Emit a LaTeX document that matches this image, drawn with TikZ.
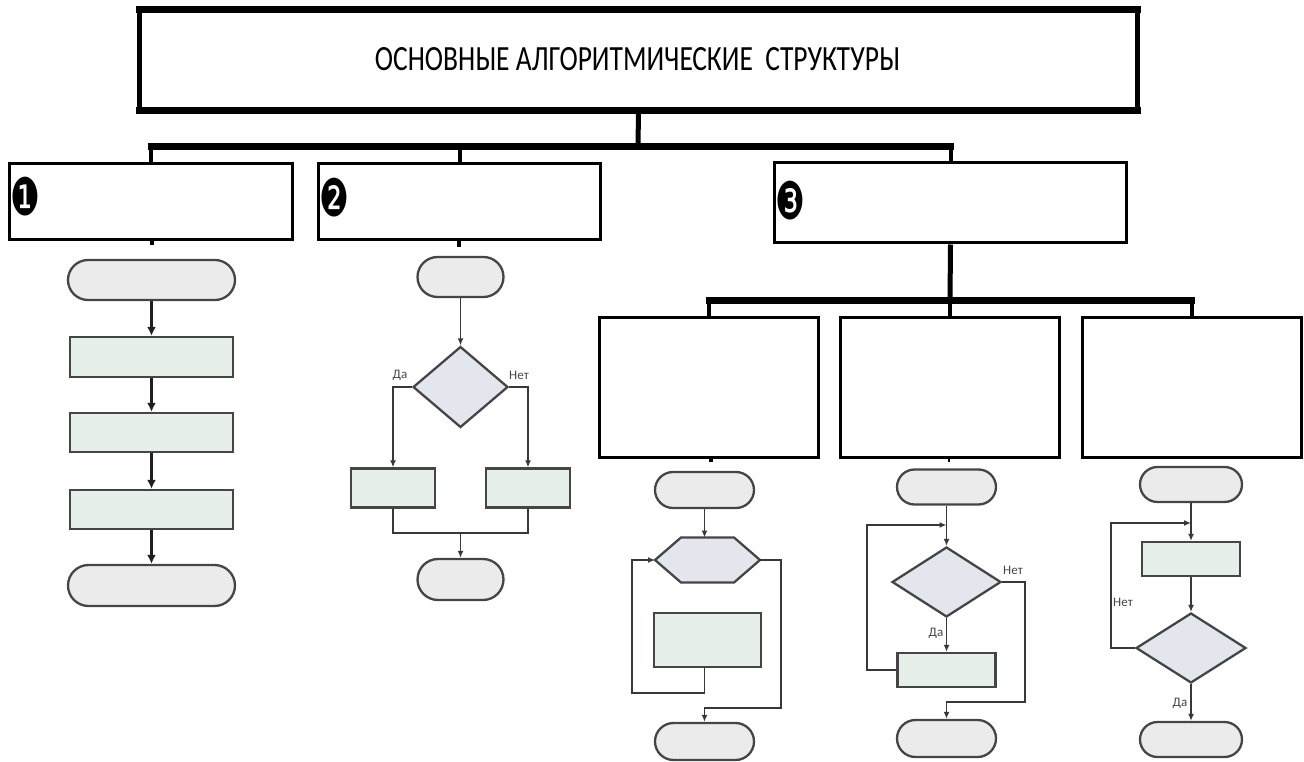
\documentclass[tikz,border=0pt]{standalone}
\usepackage{graphicx}
\usepackage{fontspec}
\setmainfont{Carlito}
\newfontfamily\symfont{DejaVu Sans}
\usetikzlibrary{arrows.meta,shapes.geometric,shapes.misc}
\definecolor{termfill}{HTML}{EBEBEB}
\definecolor{procfill}{HTML}{E6F0E8}
\definecolor{decfill}{HTML}{E4E6EE}
\definecolor{shapeline}{HTML}{454545}
\definecolor{connline}{HTML}{383838}
\tikzset{
  titlebox/.style={draw=black, line width=5pt, outer sep=0pt, inner sep=0pt},
  catbox/.style={draw=black, line width=3pt, inner sep=0pt},
  termbox/.style={rounded rectangle, draw=shapeline, fill=termfill, line width=2.3pt, inner sep=0pt},
  procbox/.style={rectangle, draw=shapeline, fill=procfill, line width=2.3pt, inner sep=0pt},
  decbox/.style={diamond, draw=shapeline, fill=decfill, line width=2.3pt, inner sep=0pt},
  hexbox/.style={rectangle, draw=none, inner sep=0pt, outer sep=0pt},
  conn/.style={draw=connline, line width=1.7pt},
  arr/.style={conn, -{Latex[length=7pt,width=6pt]}},
  arrbold/.style={draw=black!88, line width=2.4pt, -{Latex[length=9pt,width=9pt]}},
  tree/.style={draw=black, line width=5pt},
  treebar/.style={draw=black, line width=7pt, line cap=rect},
  lbl/.style={font=\fontsize{13}{13}\selectfont, text=shapeline, inner sep=0pt},
  num/.style={inner sep=0pt, font=\symfont\fontsize{52}{52}\selectfont},
}
\begin{document}
\begin{tikzpicture}[x=1pt,y=-1pt]
\useasboundingbox (0,0) rectangle (1304,762);

% ---------- title and hierarchy ----------
\node[titlebox, minimum width=998pt, minimum height=101pt] (title) at (638.5,60) {};
\draw[line width=7.5pt, line cap=rect] (title.north west) -- (title.north east);
\draw[line width=7.5pt, line cap=rect] (title.south west) -- (title.south east);
\node (ttext) at (637.5,59) {\resizebox{525pt}{23pt}{ОСНОВНЫЕ АЛГОРИТМИЧЕСКИЕ\ \ СТРУКТУРЫ}};

\node[catbox, minimum width=283pt, minimum height=76pt] (box1) at (151,201.5) {};
\node[catbox, minimum width=282pt, minimum height=76pt] (box2) at (459.5,201.5) {};
\node[catbox, minimum width=352pt, minimum height=80pt] (box3) at (950.5,203) {};

\node[num] (n1) at (25,197) {\scalebox{0.64}[1]{❶}};
\node[num] (n2) at (334,198) {\scalebox{0.64}[1]{❷}};
\node[num] (n3) at (790,201) {\scalebox{0.64}[1]{❸}};

\coordinate (bar1) at (638,147);
\draw[tree] (title.south) -- (bar1);
\draw[treebar] (box1.north |- bar1) -- (box3.north |- bar1);
\draw[tree, line width=4pt] (box1.north |- bar1) -- (box1.north);
\draw[tree, line width=4pt] (box2.north |- bar1) -- (box2.north);
\draw[tree, line width=4pt] (box3.north |- bar1) -- (box3.north);

\node[catbox, minimum width=219pt, minimum height=140pt] (subA) at (709,387) {};
\node[catbox, minimum width=219pt, minimum height=140pt] (subB) at (950,387) {};
\node[catbox, minimum width=219pt, minimum height=140pt] (subC) at (1191.5,387) {};

\coordinate (bar2) at (950,300.5);
\draw[tree] (box3.south) -- (bar2);
\draw[treebar] (subA.north |- bar2) -- (subC.north |- bar2);
\draw[tree, line width=4pt] (subA.north |- bar2) -- (subA.north);
\draw[tree, line width=4pt] (subB.north |- bar2) -- (subB.north);
\draw[tree, line width=4pt] (subC.north |- bar2) -- (subC.north);

% small stubs below boxes
\coordinate (s1) at (152,245);
\coordinate (s2) at (459,247);
\coordinate (s3) at (711,462);
\coordinate (s4) at (949,462);
\draw[tree, line width=4pt] (box1.south -| s1) -- (s1);
\draw[tree, line width=4pt] (box2.south -| s2) -- (s2);
\draw[tree, line width=4pt] (subA.south -| s3) -- (s3);
\draw[tree, line width=1.5pt] (subB.south -| s4) -- (s4);

% ---------- 1: linear ----------
\node[termbox, minimum width=167pt, minimum height=40pt] (t1a) at (151.5,280) {};
\node[procbox, minimum width=163pt, minimum height=40pt] (r1a) at (151.5,357) {};
\node[procbox, minimum width=163pt, minimum height=39pt] (r1b) at (151.5,432.5) {};
\node[procbox, minimum width=163pt, minimum height=39pt] (r1c) at (151.5,509.5) {};
\node[termbox, minimum width=167pt, minimum height=41pt] (t1b) at (151.5,585.5) {};
\draw[arrbold] (t1a.south) -- (r1a.north);
\draw[arrbold] (r1a.south) -- (r1b.north);
\draw[arrbold] (r1b.south) -- (r1c.north);
\draw[arrbold] (r1c.south) -- (t1b.north);

% ---------- 2: branching ----------
\node[termbox, minimum width=86pt, minimum height=40pt] (t2a) at (460.5,277) {};
\node[decbox, minimum width=95pt, minimum height=81pt] (d2) at (460.5,387) {};
\node[procbox, minimum width=84pt, minimum height=39pt] (r2L) at (393,488) {};
\node[procbox, minimum width=84pt, minimum height=39pt] (r2R) at (528,488) {};
\node[termbox, minimum width=86pt, minimum height=41pt] (t2b) at (460.5,579.5) {};
\coordinate (j2) at (460.5,533);
\draw[arr] (t2a.south) -- (d2.north);
\draw[arr] (d2.west) -| (r2L.north);
\draw[arr] (d2.east) -| (r2R.north);
\draw[conn] (r2L.south) |- (j2) -| (r2R.south);
\draw[arr] (j2) -- (t2b.north);
\node[lbl] (da2) at (400,375) {Да};
\node[lbl] (net2) at (519,375) {Нет};

% ---------- 3A: loop with parameter ----------
\node[termbox, minimum width=99pt, minimum height=36pt] (tA1) at (704.5,490) {};
\node[hexbox, minimum width=105pt, minimum height=45pt] (hex) at (707.5,560) {};
\filldraw[draw=shapeline, fill=decfill, line width=2.3pt]
  (hex.west) -- ([xshift=26pt]hex.north west) -- ([xshift=-26pt]hex.north east)
  -- (hex.east) -- ([xshift=-26pt]hex.south east) -- ([xshift=26pt]hex.south west) -- cycle;
\node[procbox, minimum width=107pt, minimum height=54pt] (rA) at (707.5,640) {};
\node[termbox, minimum width=99pt, minimum height=37pt] (tA2) at (704.5,741.5) {};
\coordinate (lA1) at (632,693);
\coordinate (lA2) at (781,708);
\draw[arr] (tA1.south) -- (tA1.south |- hex.north);
\draw[arr] (rA.south -| tA1.south) |- (lA1) |- (hex.west);
\draw[arr] (hex.east) -| (lA2) -| (tA2.north);

% ---------- 3B: while loop ----------
\node[termbox, minimum width=99pt, minimum height=35pt] (tB1) at (946.5,487) {};
\node[decbox, minimum width=109pt, minimum height=70pt] (dB) at (946.5,582) {};
\node[procbox, minimum width=98pt, minimum height=34pt] (rB) at (946.5,670) {};
\node[termbox, minimum width=99pt, minimum height=37pt] (tB2) at (946.5,738.5) {};
\coordinate (lB1) at (867,525);
\coordinate (lB2) at (1025,702);
\draw[arr] (tB1.south) -- (dB.north);
\draw[arr] (dB.south) -- (rB.north);
\draw[arr] (rB.west) -| (lB1) -- (lB1 -| tB1.south);
\draw[arr] (dB.east) -| (lB2) -| (tB2.north);
\node[lbl] (netB) at (1013,570) {Нет};
\node[lbl] (daB) at (936,633) {Да};

% ---------- 3C: do-until loop ----------
\node[termbox, minimum width=102pt, minimum height=35pt] (tC1) at (1191,484.5) {};
\node[procbox, minimum width=98pt, minimum height=34pt] (rC) at (1191,559) {};
\node[decbox, minimum width=110pt, minimum height=70pt] (dC) at (1191,648) {};
\node[termbox, minimum width=102pt, minimum height=35pt] (tC2) at (1191,739.5) {};
\coordinate (lC) at (1111,523);
\draw[arr] (tC1.south) -- (rC.north);
\draw[arr] (rC.south) -- (dC.north);
\draw[arr] (dC.west) -| (lC) -- (lC -| tC1.south);
\draw[arr] (dC.south) -- (tC2.north);
\node[lbl] (netC) at (1123,602) {Нет};
\node[lbl] (daC) at (1180,703) {Да};
\end{tikzpicture}
\end{document}
